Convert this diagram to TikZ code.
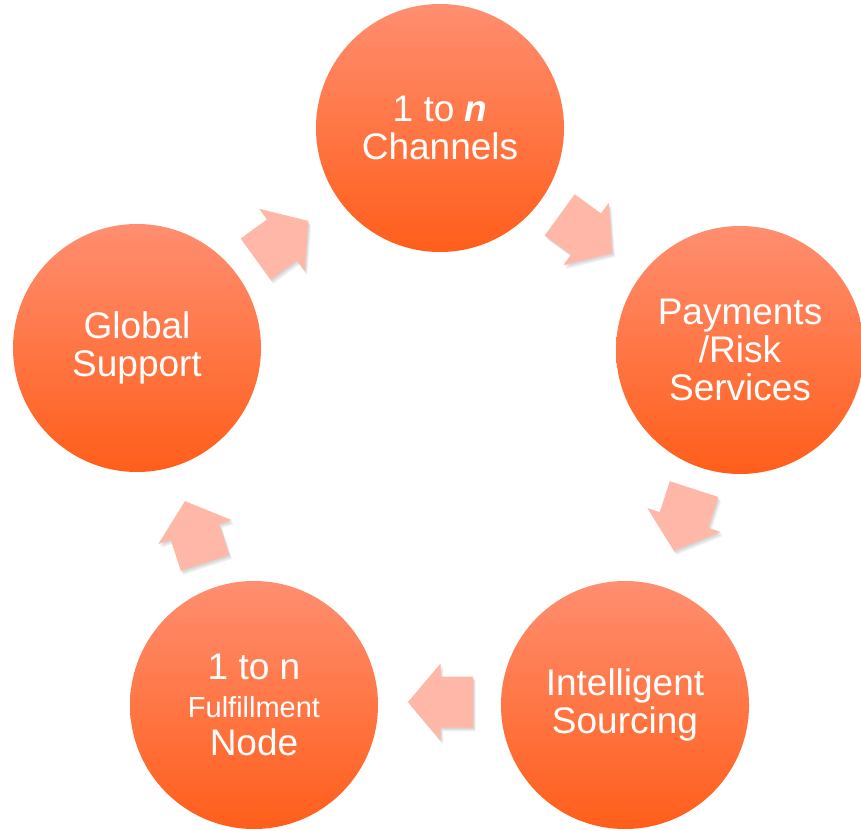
\documentclass[tikz,border=0pt]{standalone}
\usepackage{fontspec}
\setmainfont{Liberation Sans}

\definecolor{ctop}{RGB}{255,142,112}
\definecolor{cbot}{RGB}{255,94,26}
\definecolor{arrowfill}{RGB}{255,183,167}

\tikzset{
  stage/.style={circle, minimum size=248pt, inner sep=0pt,
    top color=ctop, bottom color=cbot, draw=none,
    text=white, align=center, font=\fontsize{37}{38}\selectfont},
}

% block arrow pointing along +x, centred on the origin
\def\arrowoutline{(-32.5,-25.5) -- (0,-25.5) -- (0,-38.5) -- (32.5,0) -- (0,38.5) -- (0,25.5) -- (-32.5,25.5) -- cycle}

% #1 name, #2 x, #3 y, #4 direction
\newcommand\cyclearrow[4]{%
  \coordinate (#1) at (#2,#3);
  \begin{scope}[shift={(#1)}]
    \foreach \d in {1,2,3}
      \fill[black, opacity=0.06, shift={(\d*0.9,-\d*1.3)}, rotate=#4] \arrowoutline;
    \fill[arrowfill, rotate=#4] \arrowoutline;
  \end{scope}}

\begin{document}
\begin{tikzpicture}[x=1pt, y=1pt]
  \useasboundingbox (0,0) rectangle (861,830);

  % stages
  \node[stage] (channels) at (440,702) {1 to \textbf{\textit{n}}\\Channels};
  \node[stage] (payments) at (740,480) {Payments\\/Risk\\Services};
  \node[stage] (sourcing) at (625,125) {Intelligent\\Sourcing};
  \node[stage] (fulfil)   at (254,125) {1 to n\\{\fontsize{29}{34}\selectfont Fulfillment}\\Node};
  \node[stage] (support)  at (137,482) {Global\\Support};

  % arrows between stages, clockwise
  \cyclearrow{a1}{282}{590}{36}
  \cyclearrow{a2}{586}{596}{-36}
  \cyclearrow{a3}{684}{310}{-108}
  \cyclearrow{a4}{440.5}{128}{180}
  \cyclearrow{a5}{195}{298}{108}
\end{tikzpicture}
\end{document}
